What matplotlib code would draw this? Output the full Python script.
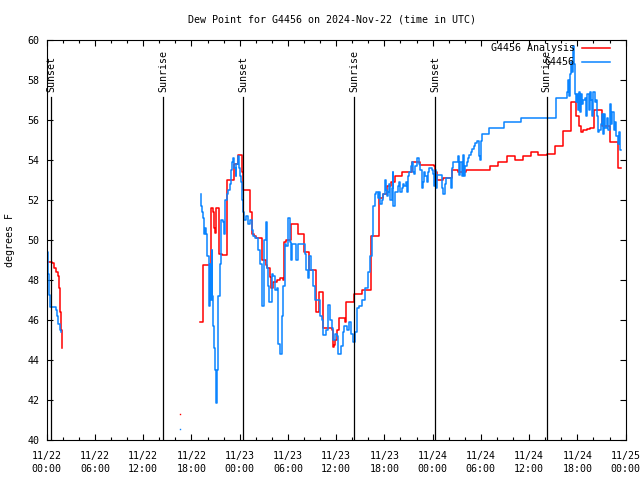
import matplotlib
matplotlib.use('agg')
import matplotlib.pyplot as plt
from matplotlib.ticker import MultipleLocator

plt.rcParams['font.family'] = ['DejaVu Sans Mono']
plt.rcParams['font.size'] = 7.2

# x is hours since 2024-11-22 00:00 UTC
title = 'Dew Point for G4456 on 2024-Nov-22 (time in UTC)'
tick_hours = [0, 6, 12, 18, 24, 30, 36, 42, 48, 54, 60, 66, 72]
tick_labels = ['11/22\n00:00', '11/22\n06:00', '11/22\n12:00', '11/22\n18:00',
               '11/23\n00:00', '11/23\n06:00', '11/23\n12:00', '11/23\n18:00',
               '11/24\n00:00', '11/24\n06:00', '11/24\n12:00', '11/24\n18:00',
               '11/25\n00:00']

sun_hours = [0.55, 14.47, 24.45, 38.26, 48.33, 62.2]
sun_labels = ['Sunset', 'Sunrise', 'Sunset', 'Sunrise', 'Sunset', 'Sunrise']

# G4456 Analysis (red)
red_a_hours = [0.0, 0.6, 0.9, 1.2, 1.45, 1.55, 1.65, 1.75, 1.86]
red_a_vals = [48.9, 48.85, 48.6, 48.4, 48.2, 47.6, 46.4, 45.5, 44.6]

red_b_hours = [19.07, 19.48, 20.44, 20.65, 20.8, 20.95, 21.05, 21.47, 21.8, 22.4,
               23.3, 23.85, 24.35, 24.45, 25.29, 25.5, 25.78, 26.0, 26.74, 27.28,
               27.44, 27.77, 27.9, 28.18, 28.61, 29.02, 29.43, 29.55, 29.75, 30.39,
               31.29, 32.04, 32.66, 33.5, 33.83, 34.4, 35.45, 35.57, 35.7, 35.86,
               36.07, 36.39, 37.1, 37.25, 38.26, 39.18, 40.34, 41.37, 41.8, 42.3,
               42.8, 43.3, 44.25, 45.4, 46.4, 48.2, 48.26, 48.5, 49.33, 50.41,
               51.19, 52.15, 55.14, 56.17, 57.29, 58.25, 59.2, 60.2, 61.14, 62.19,
               63.22, 64.18, 65.17, 65.83, 66.24, 66.45, 66.7, 67.16, 67.58, 68.11,
               69.03, 70.06, 71.09, 71.4]
red_b_vals = [45.9, 48.75, 51.6, 51.4, 50.6, 50.35, 51.6, 49.3, 49.25, 53.0,
              53.8, 54.25, 53.4, 52.5, 51.4, 50.3, 50.2, 50.1, 49.0, 48.75,
              48.6, 48.15, 47.6, 47.9, 48.0, 48.1, 48.0, 49.9, 50.0, 50.8,
              50.3, 49.4, 48.5, 46.4, 47.4, 45.6, 45.5, 44.65, 44.75, 45.0,
              45.5, 46.1, 45.9, 46.9, 47.3, 47.5, 50.2, 52.1, 52.3, 52.7,
              52.9, 53.2, 53.4, 53.9, 53.75, 53.7, 53.4, 53.0, 53.1, 53.5,
              53.4, 53.5, 53.7, 53.9, 54.2, 54.0, 54.2, 54.4, 54.25, 54.3,
              54.7, 55.45, 56.9, 56.2, 55.7, 55.4, 55.5, 55.55, 55.6, 56.5,
              55.7, 54.9, 53.6, 53.6]

# G4456 observations (blue)
blue_a_hours = [0.0, 0.07, 0.2, 0.32, 0.45, 1.16, 1.32, 1.45, 1.65, 1.78]
blue_a_vals = [50.4, 49.4, 48.3, 47.25, 46.65, 46.5, 46.2, 45.8, 45.5, 45.4]

blue_b_hours = [19.15, 19.2, 19.3, 19.48, 19.6, 19.75, 19.85, 19.98, 20.2, 20.3,
                20.4, 20.52, 20.6, 20.72, 20.85, 20.95, 21.0, 21.15, 21.3, 21.55,
                21.7, 21.9, 22.05, 22.18, 22.4, 22.6, 22.8, 22.95, 23.1, 23.21,
                23.35, 23.5, 23.6, 23.76, 23.9, 24.0, 24.15, 24.25, 24.35, 24.45,
                24.6, 24.8, 25.0, 25.3, 25.5, 25.7, 25.9, 26.24, 26.5, 26.74,
                27.03, 27.28, 27.4, 27.5, 27.69, 27.99, 28.2, 28.4, 28.6, 28.81,
                29.02, 29.3, 29.45, 29.64, 29.8, 30.05, 30.2, 30.35, 30.5, 31.0,
                31.3, 31.92, 32.1, 32.3, 32.5, 32.66, 32.9, 33.16, 33.4, 33.99,
                34.2, 34.4, 34.7, 35.02, 35.24, 35.45, 35.65, 35.9, 36.1, 36.27,
                36.6, 36.8, 37.0, 37.3, 37.6, 37.9, 38.13, 38.3, 38.56, 38.9,
                39.2, 39.59, 40.0, 40.2, 40.42, 40.6, 40.83, 41.0, 41.2, 41.35,
                41.5, 41.65, 41.8, 42.08, 42.2, 42.35, 42.45, 42.6, 42.75, 42.9,
                43.03, 43.11, 43.3, 43.5, 43.65, 43.8, 44.0, 44.2, 44.35, 44.5,
                44.65, 44.8, 44.95, 45.1, 45.25, 45.4, 45.55, 45.7, 45.85, 46.1,
                46.25, 46.4, 46.64, 46.8, 46.95, 47.1, 47.3, 47.45, 47.6, 47.89,
                48.0, 48.17, 48.3, 48.45, 48.6, 49.0, 49.2, 49.33, 49.5, 49.66,
                50.1, 50.25, 50.37, 50.57, 51.19, 51.3, 51.45, 51.62, 51.82, 51.9,
                52.05, 52.24, 52.44, 52.56, 52.74, 52.95, 53.15, 53.3, 53.48, 53.81,
                53.93, 54.05, 54.18, 54.93, 55.05, 56.79, 56.88, 58.96, 59.03, 63.35,
                64.59, 64.75, 64.85, 65.0, 65.1, 65.2, 65.3, 65.42, 65.55, 65.65,
                65.75, 65.83, 65.95, 66.1, 66.2, 66.35, 66.5, 66.6, 66.75, 66.95,
                67.1, 67.25, 67.4, 67.55, 67.7, 67.85, 68.0, 68.15, 68.3, 68.45,
                68.6, 68.73, 68.9, 69.05, 69.2, 69.35, 69.5, 69.65, 69.8, 70.06,
                70.2, 70.35, 70.5, 70.65, 70.8, 71.0, 71.15, 71.3, 71.4]
blue_b_vals = [52.3, 51.7, 51.4, 51.1, 50.3, 50.6, 50.3, 49.2, 46.7, 48.8,
               47.0, 49.5, 47.2, 45.7, 44.6, 43.5, 41.85, 43.5, 47.2, 48.8,
               51.0, 50.9, 50.3, 52.0, 52.3, 52.5, 52.8, 53.5, 53.9, 54.1,
               53.6, 53.2, 53.8, 54.2, 53.6, 53.2, 52.9, 52.65, 52.0, 51.4,
               51.0, 51.2, 50.8, 51.0, 50.5, 50.2, 50.1, 49.5, 48.8, 46.7,
               50.0, 50.9, 48.6, 47.7, 46.9, 48.3, 48.2, 47.5, 47.6, 44.8,
               44.3, 46.2, 47.7, 49.8, 49.7, 51.1, 49.9, 49.0, 49.8, 49.0,
               49.8, 49.8, 49.3, 48.5, 48.1, 49.2, 48.5, 47.7, 47.0, 46.2,
               46.0, 45.25, 45.5, 46.75, 46.0, 45.6, 45.0, 45.3, 45.2, 44.3,
               44.7, 45.4, 45.7, 45.5, 45.9, 45.3, 44.9, 45.4, 46.6, 46.7,
               47.0, 47.6, 48.4, 49.2, 50.2, 51.7, 52.3, 52.4, 52.1, 52.4,
               51.8, 52.0, 52.3, 53.0, 52.5, 52.2, 52.4, 52.8, 52.0, 52.6,
               53.4, 51.7, 52.4, 52.4, 52.7, 52.9, 52.4, 52.6, 52.8, 52.7,
               52.9, 52.4, 53.2, 53.4, 53.7, 53.9, 53.4, 53.3, 53.7, 54.1,
               53.8, 53.5, 52.6, 52.9, 53.4, 53.2, 52.9, 53.4, 53.6, 53.5,
               53.3, 52.7, 53.5, 52.6, 53.25, 53.25, 52.6, 52.3, 52.8, 53.1,
               53.1, 52.6, 53.6, 53.9, 54.2, 53.25, 53.9, 53.2, 54.25, 53.2,
               53.7, 53.9, 54.1, 54.25, 54.4, 54.55, 54.7, 54.85, 54.95, 54.2,
               54.0, 54.95, 55.3, 55.3, 55.6, 55.6, 55.9, 55.9, 56.1, 57.1,
               57.1, 57.4, 58.0, 57.2, 58.3, 58.9, 58.4, 59.7, 58.8, 58.0,
               57.3, 56.9, 57.3, 56.5, 57.4, 56.4, 57.3, 56.8, 57.0, 57.1,
               56.2, 57.3, 56.5, 57.4, 57.0, 56.2, 57.4, 56.9, 57.0, 56.2,
               55.4, 55.5, 55.8, 56.3, 55.3, 56.3, 55.6, 56.1, 55.5, 56.8,
               55.8, 56.4, 55.5, 55.9, 55.2, 54.8, 55.4, 54.5, 54.5]

# isolated single readings
dot_hours = [16.6]
red_dot_vals = [41.3]
blue_dot_vals = [40.55]

red = '#ff0000'
blue = '#0a84ff'

fig = plt.figure(figsize=(6.4, 4.8), dpi=100)
ax = fig.add_axes([46.7 / 640, 40 / 480, 578.9 / 640, 400 / 480])

ax.plot(red_a_hours, red_a_vals, color=red, lw=1.1, drawstyle='steps-post',
        label='G4456 Analysis')
ax.plot(red_b_hours, red_b_vals, color=red, lw=1.1, drawstyle='steps-post')
ax.plot(blue_a_hours, blue_a_vals, color=blue, lw=1.1, drawstyle='steps-post',
        label='G4456')
ax.plot(blue_b_hours, blue_b_vals, color=blue, lw=1.1, drawstyle='steps-post')
ax.plot(dot_hours, red_dot_vals, 's', color=red, ms=1, mew=0)
ax.plot(dot_hours, blue_dot_vals, 's', color=blue, ms=1, mew=0)

for h, lab in zip(sun_hours, sun_labels):
    ax.plot([h, h], [40, 57.15], color='black', lw=0.9)
    ax.text(h, 57.4, lab, rotation=90, ha='center', va='bottom')

ax.set_xlim(0, 72)
ax.set_ylim(40, 60)
ax.set_xticks(tick_hours)
ax.set_xticklabels(tick_labels, linespacing=1.3)
ax.xaxis.set_minor_locator(MultipleLocator(2))
ax.yaxis.set_major_locator(MultipleLocator(2))
ax.tick_params(which='both', direction='in', top=True, right=True, width=0.8)
ax.tick_params(which='major', length=4)
ax.tick_params(which='minor', length=2)
ax.tick_params(axis='x', pad=8)
ax.tick_params(axis='y', pad=5)
for s in ax.spines.values():
    s.set_linewidth(0.8)

fig.text(332 / 640, 1 - 20 / 480, title, ha='center', va='center')
fig.text(10 / 640, 0.5, 'degrees F', rotation=90, ha='center', va='center')

ax.legend(loc='upper right', bbox_to_anchor=(0.973, 0.992), frameon=False,
          markerfirst=False, borderpad=0, borderaxespad=0, handlelength=2.8,
          handletextpad=0.7, labelspacing=0.4)

fig.savefig('out.png', dpi=100)
